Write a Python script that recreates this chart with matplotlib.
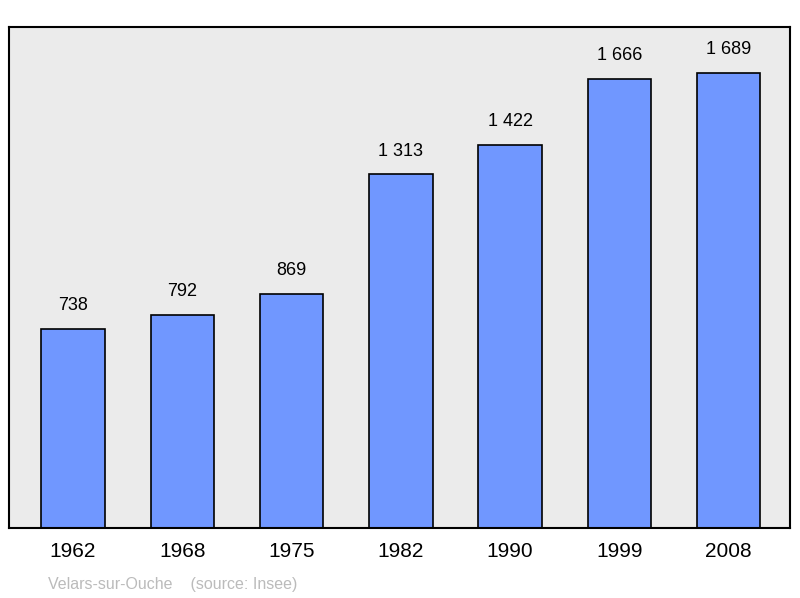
import matplotlib
matplotlib.use("Agg")
import matplotlib.pyplot as plt

years = ["1962", "1968", "1975", "1982", "1990", "1999", "2008"]
population = [738, 792, 869, 1313, 1422, 1666, 1689]
labels = ["738", "792", "869", "1 313", "1 422", "1 666", "1 689"]

plt.rcParams['font.family'] = ['Liberation Sans', 'DejaVu Sans']
fig = plt.figure(figsize=(8, 5.98), dpi=100)
ax = fig.add_axes([9/800, 1-528/598, 781/800, 501/598])
ax.set_facecolor('#ebebeb')
x = list(range(len(years)))
ax.bar(x, population, width=0.58, color='#7097ff', edgecolor='black', linewidth=1.2, zorder=2)
for xi, v, l in zip(x, population, labels):
    ax.text(xi, v + 55, l, ha='center', va='bottom', fontsize=13)
ax.set_xlim(-0.585, 6.56)
ax.set_ylim(0, 1860)
ax.set_yticks([])
ax.set_xticks(x)
ax.set_xticklabels(years, fontsize=15)
ax.tick_params(axis='x', length=0, pad=10)
for s in ax.spines.values():
    s.set_linewidth(1.5)
fig.text(48/800, 1-584/598, "Velars-sur-Ouche    (source: Insee)", color='#bbbbbb', fontsize=11.5, va='center')
fig.savefig("out.png", dpi=100)
